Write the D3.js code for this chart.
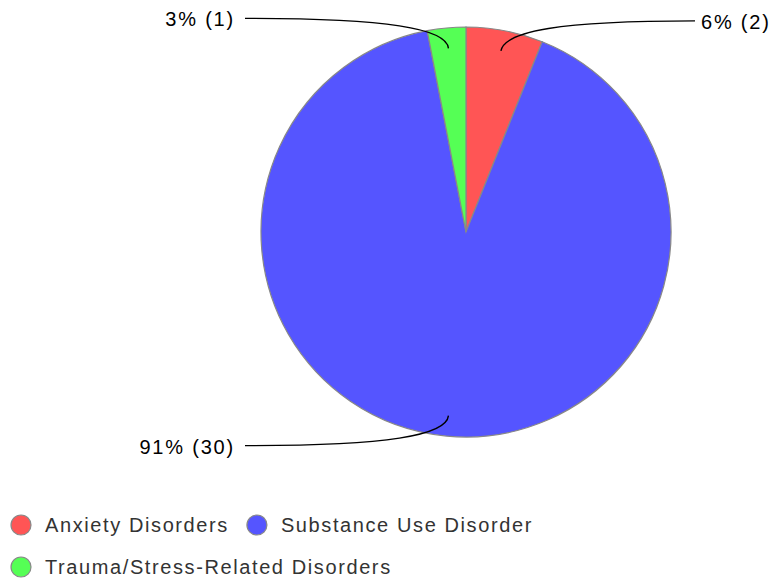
<!DOCTYPE html>
<html>
<head>
<meta charset="utf-8">
<script src="https://cdn.jsdelivr.net/npm/d3@7"></script>
<style>
  body { margin: 0; background: #fff; }
  svg { display: block; font-family: "Liberation Sans", Arial, sans-serif; }
</style>
</head>
<body>
<svg id="chart" width="770" height="580"></svg>
<script>
// chart data
let categories = ['Anxiety Disorders', 'Substance Use Disorder', 'Trauma/Stress-Related Disorders']
let counts = [2, 30, 1]
let colors = ['#ff5555', '#5555ff', '#55ff55']

let width = 770, cx = 466, cy = 232, R = 205

let svg = d3.select('#chart')

let total = d3.sum(counts)
let data = categories.map((c, i) => ({name: c, value: counts[i], color: colors[i]}))

let pie = d3.pie().value(d => d.value).sort(null)
let arc = d3.arc().innerRadius(0).outerRadius(R)

let g = svg.append('g').attr('transform', 'translate(' + cx + ',' + cy + ')')

let arcs = pie(data)

g.selectAll('.slice')
	.data(arcs)
	.enter()
	.append('path')
	.attr('class', 'slice')
	.attr('d', arc)
	.attr('fill', d => d.data.color)
	.attr('stroke', '#888')
	.attr('stroke-width', 1.2)

// callout lines + labels
arcs.forEach(function(d){

	let a = (d.startAngle + d.endAngle) / 2
	let sx = Math.sin(a), sy = -Math.cos(a)
	let r0 = R * 0.9
	let x0 = sx * r0, y0 = sy * r0
	let right = sx > 0
	let top = sy < 0
	let y1 = y0 + (top ? -30 : 30)
	let x1 = right ? R + 24 : -R - 16
	let c1x = x0 + sx * 20, c1y = y0 + sy * 20
	let c2x = x0 + (x1 - x0) * 0.3, c2y = y1

	g.append('path')
		.attr('d', 'M' + x0 + ',' + y0 + 'C' + c1x + ',' + c1y + ' ' + c2x + ',' + c2y + ' ' + x1 + ',' + y1)
		.attr('fill', 'none')
		.attr('stroke', '#000')
		.attr('stroke-width', 1.4)

	let pct = Math.round(d.data.value / total * 100)

	g.append('text')
		.attr('x', right ? x1 + 6 : x1 - 10)
		.attr('y', y1 + 8)
		.attr('text-anchor', right ? 'start' : 'end')
		.attr('font-size', 20)
		.attr('letter-spacing', 1.8)
		.attr('fill', '#000')
		.text(pct + '% (' + d.data.value + ')')
})

// legend
let lx = 11, ly = 524
data.forEach(function(d){

	let item = svg.append('g')

	let t = item.append('text')
		.attr('x', 34)
		.attr('y', 8)
		.attr('font-size', 20)
		.attr('letter-spacing', 1.6)
		.attr('fill', '#333')
		.text(d.name)

	let w = 34 + t.node().getComputedTextLength()

	if(lx + w > width - 10){
		lx = 11
		ly += 42
	}

	item.attr('transform', 'translate(' + lx + ',' + ly + ')')

	item.append('circle')
		.attr('cx', 10)
		.attr('cy', 1)
		.attr('r', 10)
		.attr('fill', d.color)
		.attr('stroke', '#888')
		.attr('stroke-width', 1.2)

	lx += w + 18
})
</script>
</body>
</html>
